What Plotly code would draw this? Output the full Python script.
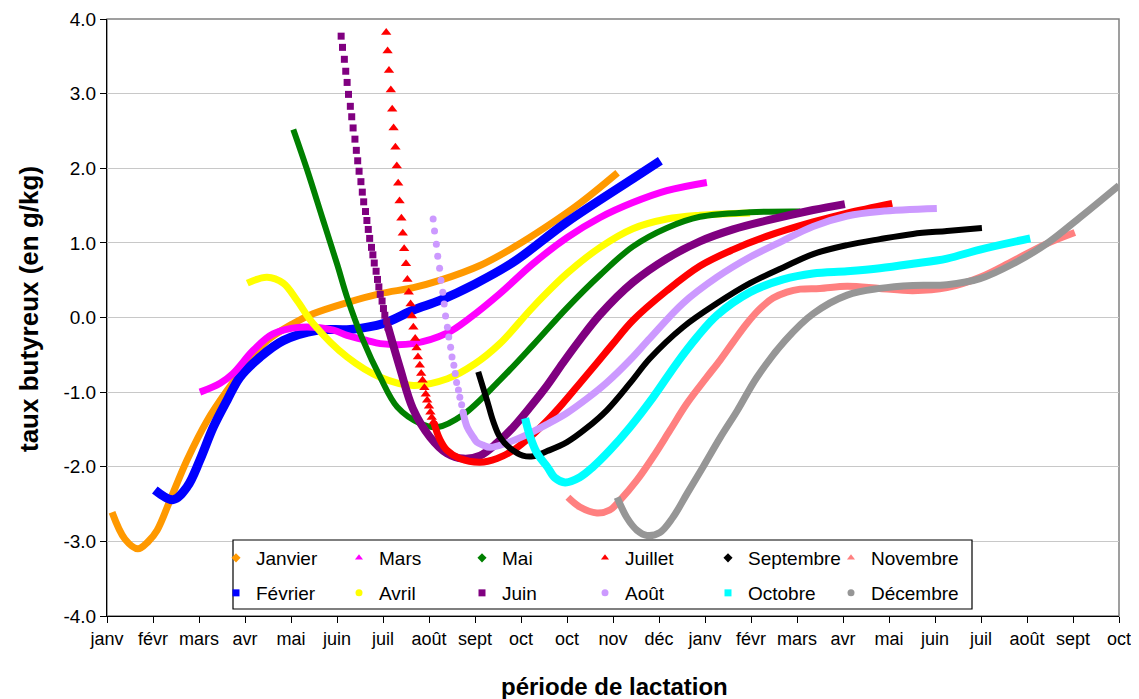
import plotly.graph_objects as go

# graduations
mois = ["janv", "févr", "mars", "avr", "mai", "juin", "juil", "août", "sept", "oct",
        "oct", "nov", "déc", "janv", "févr", "mars", "avr", "mai", "juin", "juil",
        "août", "sept", "oct"]
y_vals = [-4, -3, -2, -1, 0, 1, 2, 3, 4]
y_labels = ["-4.0", "-3.0", "-2.0", "-1.0", "0.0", "1.0", "2.0", "3.0", "4.0"]

# courbes (x en mois depuis janvier, y en g/kg)
janvier_x = [0.11, 0.39, 0.67, 0.90, 1.09, 1.37, 1.74, 2.18, 2.61, 3.05, 3.48, 4.05, 4.48, 5.22,
             5.94, 6.66, 7.25, 8.12, 8.84, 9.56, 10.28, 11.10]
janvier_y = [-2.61, -2.97, -3.10, -3.00, -2.85, -2.45, -1.91, -1.38, -0.98, -0.62, -0.31, -0.08, 0.05,
             0.20, 0.32, 0.40, 0.50, 0.70, 0.94, 1.22, 1.53, 1.94]

fevrier_x = [1.04, 1.44, 1.74, 2.02, 2.31, 2.61, 2.89, 3.33, 3.83, 4.57, 5.29, 6.01, 6.66, 7.24,
             8.00, 8.83, 10.00, 11.43, 12.03]
fevrier_y = [-2.31, -2.44, -2.27, -1.91, -1.47, -1.11, -0.80, -0.53, -0.31, -0.17, -0.16, -0.08, 0.10,
             0.23, 0.45, 0.74, 1.28, 1.86, 2.10]

mars_x = [2.02, 2.46, 2.74, 3.18, 3.61, 4.20, 4.92, 5.22, 5.66, 5.94, 6.65, 7.39, 7.90, 8.54, 9.26,
          10.00, 10.72, 11.43, 12.17, 13.04]
mars_y = [-1.00, -0.88, -0.75, -0.44, -0.22, -0.13, -0.17, -0.24, -0.31, -0.35, -0.35, -0.21, 0.00,
          0.32, 0.72, 1.07, 1.34, 1.54, 1.70, 1.81]

avril_x = [3.05, 3.48, 3.83, 4.13, 4.48, 5.22, 5.94, 6.66, 7.40, 8.00, 8.54, 9.26, 10.00, 10.72,
           11.43, 12.17, 12.89, 13.98]
avril_y = [0.46, 0.54, 0.46, 0.23, -0.08, -0.53, -0.80, -0.91, -0.82, -0.62, -0.35, 0.14, 0.59, 0.94,
           1.19, 1.32, 1.37, 1.40]

mai_x = [4.05, 4.35, 4.70, 5.01, 5.22, 5.57, 5.94, 6.31, 6.81, 7.18, 7.75, 8.54, 9.26, 10.00, 10.72,
         11.43, 12.17, 12.89, 13.98, 15.07]
mai_y = [2.52, 1.98, 1.30, 0.70, 0.27, -0.31, -0.80, -1.20, -1.42, -1.47, -1.30, -0.84, -0.37, 0.13,
         0.57, 0.95, 1.20, 1.35, 1.41, 1.42]

juin_debut_x = [5.09, 5.12, 5.16, 5.19, 5.22, 5.25, 5.29, 5.32, 5.35, 5.39, 5.42, 5.45, 5.48, 5.52,
                5.55, 5.58, 5.62, 5.65, 5.68, 5.71, 5.75, 5.78, 5.81, 5.85, 5.88, 5.91, 5.94, 5.98,
                6.01, 6.04, 6.08, 6.11]
juin_debut_y = [3.77, 3.62, 3.46, 3.30, 3.15, 2.99, 2.83, 2.69, 2.54, 2.39, 2.24, 2.10, 1.96, 1.82,
                1.68, 1.55, 1.42, 1.30, 1.18, 1.06, 0.94, 0.84, 0.73, 0.62, 0.51, 0.41, 0.31, 0.22,
                0.12, 0.03, -0.05, -0.13]
juin_x = [6.11, 6.37, 6.65, 7.02, 7.39, 7.74, 8.11, 8.48, 8.83, 9.20, 9.57, 9.91, 10.28, 10.72,
          11.43, 12.17, 12.89, 13.61, 14.35, 15.35, 16.04]
juin_y = [-0.13, -0.68, -1.22, -1.60, -1.82, -1.89, -1.85, -1.68, -1.47, -1.20, -0.91, -0.61, -0.30,
          0.04, 0.47, 0.79, 1.02, 1.18, 1.30, 1.44, 1.52]

juillet_debut_x = [6.07, 6.10, 6.13, 6.17, 6.20, 6.23, 6.27, 6.30, 6.33, 6.36, 6.40, 6.43, 6.46,
                   6.50, 6.53, 6.56, 6.60, 6.63, 6.66, 6.70, 6.73, 6.76, 6.80, 6.83, 6.86, 6.90,
                   6.93, 6.96, 7.00, 7.03, 7.06, 7.10]
juillet_debut_y = [3.82, 3.57, 3.31, 3.05, 2.79, 2.54, 2.28, 2.03, 1.80, 1.56, 1.33, 1.13, 0.92,
                   0.72, 0.51, 0.34, 0.18, 0.02, -0.13, -0.28, -0.41, -0.53, -0.64, -0.75, -0.84,
                   -0.94, -1.03, -1.11, -1.19, -1.27, -1.34, -1.40]
juillet_x = [7.10, 7.24, 7.39, 7.67, 8.11, 8.48, 8.83, 9.20, 9.57, 9.91, 10.28, 10.65, 11.00, 11.43,
             12.17, 12.89, 13.61, 14.35, 15.35, 16.09, 17.07]
juillet_y = [-1.40, -1.64, -1.78, -1.89, -1.94, -1.89, -1.78, -1.60, -1.38, -1.15, -0.88, -0.61,
             -0.35, -0.04, 0.36, 0.69, 0.91, 1.09, 1.28, 1.40, 1.53]

aout_debut_x = [7.09, 7.12, 7.16, 7.19, 7.23, 7.26, 7.30, 7.33, 7.36, 7.40, 7.43, 7.47, 7.50, 7.54,
                7.57, 7.60, 7.64, 7.67, 7.71, 7.74]
aout_debut_y = [1.32, 1.16, 0.98, 0.82, 0.66, 0.50, 0.34, 0.18, 0.02, -0.13, -0.26, -0.40, -0.53,
                -0.64, -0.75, -0.87, -0.97, -1.07, -1.17, -1.27]
aout_x = [7.74, 7.83, 7.96, 8.04, 8.17, 8.33, 8.70, 9.13, 9.57, 10.00, 10.43, 10.87, 11.37, 11.80,
          12.52, 13.26, 13.98, 14.70, 15.35, 16.09, 16.80, 18.04]
aout_y = [-1.27, -1.47, -1.60, -1.67, -1.71, -1.74, -1.68, -1.57, -1.43, -1.28, -1.09, -0.87, -0.57,
          -0.28, 0.19, 0.54, 0.81, 1.03, 1.22, 1.36, 1.42, 1.46]

septembre_x = [8.07, 8.17, 8.28, 8.39, 8.54, 8.76, 9.04, 9.26, 9.57, 10.00, 10.43, 10.87, 11.37,
               11.80, 12.52, 13.26, 13.98, 14.70, 15.35, 16.09, 16.80, 17.52, 18.26, 19.02]
septembre_y = [-0.73, -0.93, -1.15, -1.38, -1.60, -1.75, -1.85, -1.86, -1.79, -1.67, -1.48, -1.24,
               -0.88, -0.55, -0.13, 0.19, 0.46, 0.67, 0.85, 0.97, 1.05, 1.12, 1.16, 1.20]

octobre_x = [9.09, 9.20, 9.35, 9.57, 9.74, 9.96, 10.28, 10.57, 10.93, 11.37, 11.87, 12.39, 12.83,
             13.26, 13.98, 14.70, 15.35, 16.09, 16.80, 17.52, 18.26, 18.98, 20.07]
octobre_y = [-1.35, -1.60, -1.82, -2.00, -2.15, -2.21, -2.14, -2.00, -1.78, -1.47, -1.07, -0.61,
             -0.26, 0.03, 0.34, 0.51, 0.59, 0.62, 0.66, 0.72, 0.79, 0.91, 1.06]

novembre_x = [10.02, 10.28, 10.65, 10.93, 11.15, 11.52, 11.87, 12.24, 12.61, 13.04, 13.33, 13.61,
              13.91, 14.20, 14.48, 14.78, 15.07, 15.50, 16.09, 16.80, 17.52, 18.26, 18.98, 19.70,
              20.43, 21.04]
novembre_y = [-2.41, -2.54, -2.62, -2.58, -2.45, -2.18, -1.87, -1.51, -1.15, -0.80, -0.57, -0.33,
              -0.08, 0.12, 0.26, 0.34, 0.38, 0.39, 0.42, 0.39, 0.36, 0.40, 0.54, 0.76, 0.99, 1.14]

decembre_x = [11.09, 11.30, 11.52, 11.74, 12.02, 12.30, 12.61, 12.96, 13.33, 13.70, 14.13, 14.74,
              15.35, 16.09, 16.80, 17.52, 18.26, 18.98, 19.70, 20.43, 21.15, 22.00]
decembre_y = [-2.41, -2.68, -2.85, -2.92, -2.88, -2.68, -2.36, -2.00, -1.61, -1.25, -0.80, -0.31,
              0.05, 0.30, 0.39, 0.43, 0.44, 0.52, 0.72, 0.99, 1.34, 1.77]

FONT = "Arial, Liberation Sans, sans-serif"

# nom, couleur, symbole, épaisseur, x, y, début en points (x, y)
series = [
    ("Janvier", "#FF9900", "diamond", 7, janvier_x, janvier_y, None, None),
    ("Février", "#0000FF", "square", 9, fevrier_x, fevrier_y, None, None),
    ("Mars", "#FF00FF", "triangle-up", 7, mars_x, mars_y, None, None),
    ("Avril", "#FFFF00", "circle", 7, avril_x, avril_y, None, None),
    ("Mai", "#008000", "diamond", 6, mai_x, mai_y, None, None),
    ("Juin", "#800080", "square", 8, juin_x, juin_y, juin_debut_x, juin_debut_y),
    ("Juillet", "#FF0000", "triangle-up", 7, juillet_x, juillet_y, juillet_debut_x, juillet_debut_y),
    ("Août", "#CC99FF", "circle", 7, aout_x, aout_y, aout_debut_x, aout_debut_y),
    ("Septembre", "#000000", "diamond", 6, septembre_x, septembre_y, None, None),
    ("Octobre", "#00FFFF", "square", 8, octobre_x, octobre_y, None, None),
    ("Novembre", "#FF8080", "triangle-up", 7, novembre_x, novembre_y, None, None),
    ("Décembre", "#969696", "circle", 7, decembre_x, decembre_y, None, None),
]
debut_taille = {"square": 7, "triangle-up": 9, "circle": 7}

# la page ajoute une marge de 8 px : la figure est donc décalée de 8 px
OFF = 8
W, H = 1139 - OFF, 699 - OFF
L, R, T, B = 107 - OFF, 20, 19 - OFF, 83
pw, ph = W - L - R, H - T - B


def px_x(p):
    return (p - OFF - L) / pw


def px_y(p):
    return (H - B - (p - OFF)) / ph


fig = go.Figure()

# légende : deux lignes ; les deux dernières colonnes à part pour ne pas couper les textes longs
leg_font = dict(family=FONT, size=19, color="black")
leg_base = dict(orientation="h", xanchor="left", yanchor="middle", bgcolor="rgba(0,0,0,0)",
                borderwidth=0, font=leg_font, itemwidth=30, tracegroupgap=0)
rangees = [
    ("legend", ["Janvier", "Mars", "Mai", "Juillet"], 216, 558),
    ("legend2", ["Février", "Avril", "Juin", "Août"], 216, 593),
    ("legend3", ["Septembre"], 708, 558),
    ("legend4", ["Octobre"], 708, 593),
    ("legend5", ["Novembre"], 831, 558),
    ("legend6", ["Décembre"], 831, 593),
]
style = {s[0]: s for s in series}
legends = {}
for leg, noms, lx, ly in rangees:
    opts = dict(leg_base, x=px_x(lx), y=px_y(ly))
    if len(noms) > 1:
        opts.update(entrywidth=78, entrywidthmode="pixels")
    legends[leg] = opts
    for n in noms:
        _, col, sym, _, _, _, _, _ = style[n]
        fig.add_trace(go.Scatter(x=[None], y=[None], mode="markers", name=n, legend=leg,
                                 marker=dict(color=col, symbol=sym, size=7)))

for name, col, sym, lw, xs, ys, dx, dy in series:
    if dx is not None:
        fig.add_trace(go.Scatter(x=dx, y=dy, mode="markers", showlegend=False, hoverinfo="skip",
                                 marker=dict(color=col, symbol=sym, size=debut_taille[sym],
                                             line_width=0)))
    fig.add_trace(go.Scatter(x=xs, y=ys, mode="lines", showlegend=False, name=name,
                             line=dict(color=col, width=lw, shape="spline", smoothing=1.0)))

fig.add_shape(type="rect", xref="paper", yref="paper", x0=0, x1=1, y0=0, y1=1,
              line=dict(color="#808080", width=1.5), layer="below")
fig.add_shape(type="rect", xref="paper", yref="paper", x0=px_x(233), x1=px_x(972),
              y0=px_y(609), y1=px_y(540), line=dict(color="black", width=1.2),
              fillcolor="white", layer="above")

fig.update_layout(
    width=W, height=H,
    margin=dict(l=L, r=R, t=T, b=B, autoexpand=False),
    paper_bgcolor="white", plot_bgcolor="white",
    font=dict(family=FONT, color="black"),
    xaxis=dict(range=[0, 22], tickmode="array", tickvals=list(range(len(mois))), ticktext=mois,
               showgrid=False, zeroline=False, showline=True, linecolor="black", linewidth=1,
               ticks="outside", ticklen=6, tickcolor="black", automargin=False,
               tickfont=dict(family=FONT, size=18, color="black")),
    yaxis=dict(range=[-4, 4], tickmode="array", tickvals=y_vals, ticktext=y_labels,
               showgrid=True, gridcolor="#C8C8C8", gridwidth=1, zeroline=False,
               showline=True, linecolor="black", linewidth=1, automargin=False,
               ticks="outside", ticklen=6, tickcolor="black",
               tickfont=dict(family=FONT, size=19, color="black")),
    annotations=[
        dict(text="<b>période de lactation</b>", xref="paper", yref="paper",
             x=px_x(614), y=px_y(686), xanchor="center", yanchor="middle", showarrow=False,
             font=dict(family=FONT, size=24, color="black")),
        dict(text="<b>taux butyreux (en g/kg)</b>", xref="paper", yref="paper",
             x=px_x(29), y=px_y(309), xanchor="center", yanchor="middle", showarrow=False,
             textangle=-90, font=dict(family=FONT, size=26, color="black")),
    ],
    **legends,
)

fig.write_html("out.html")
